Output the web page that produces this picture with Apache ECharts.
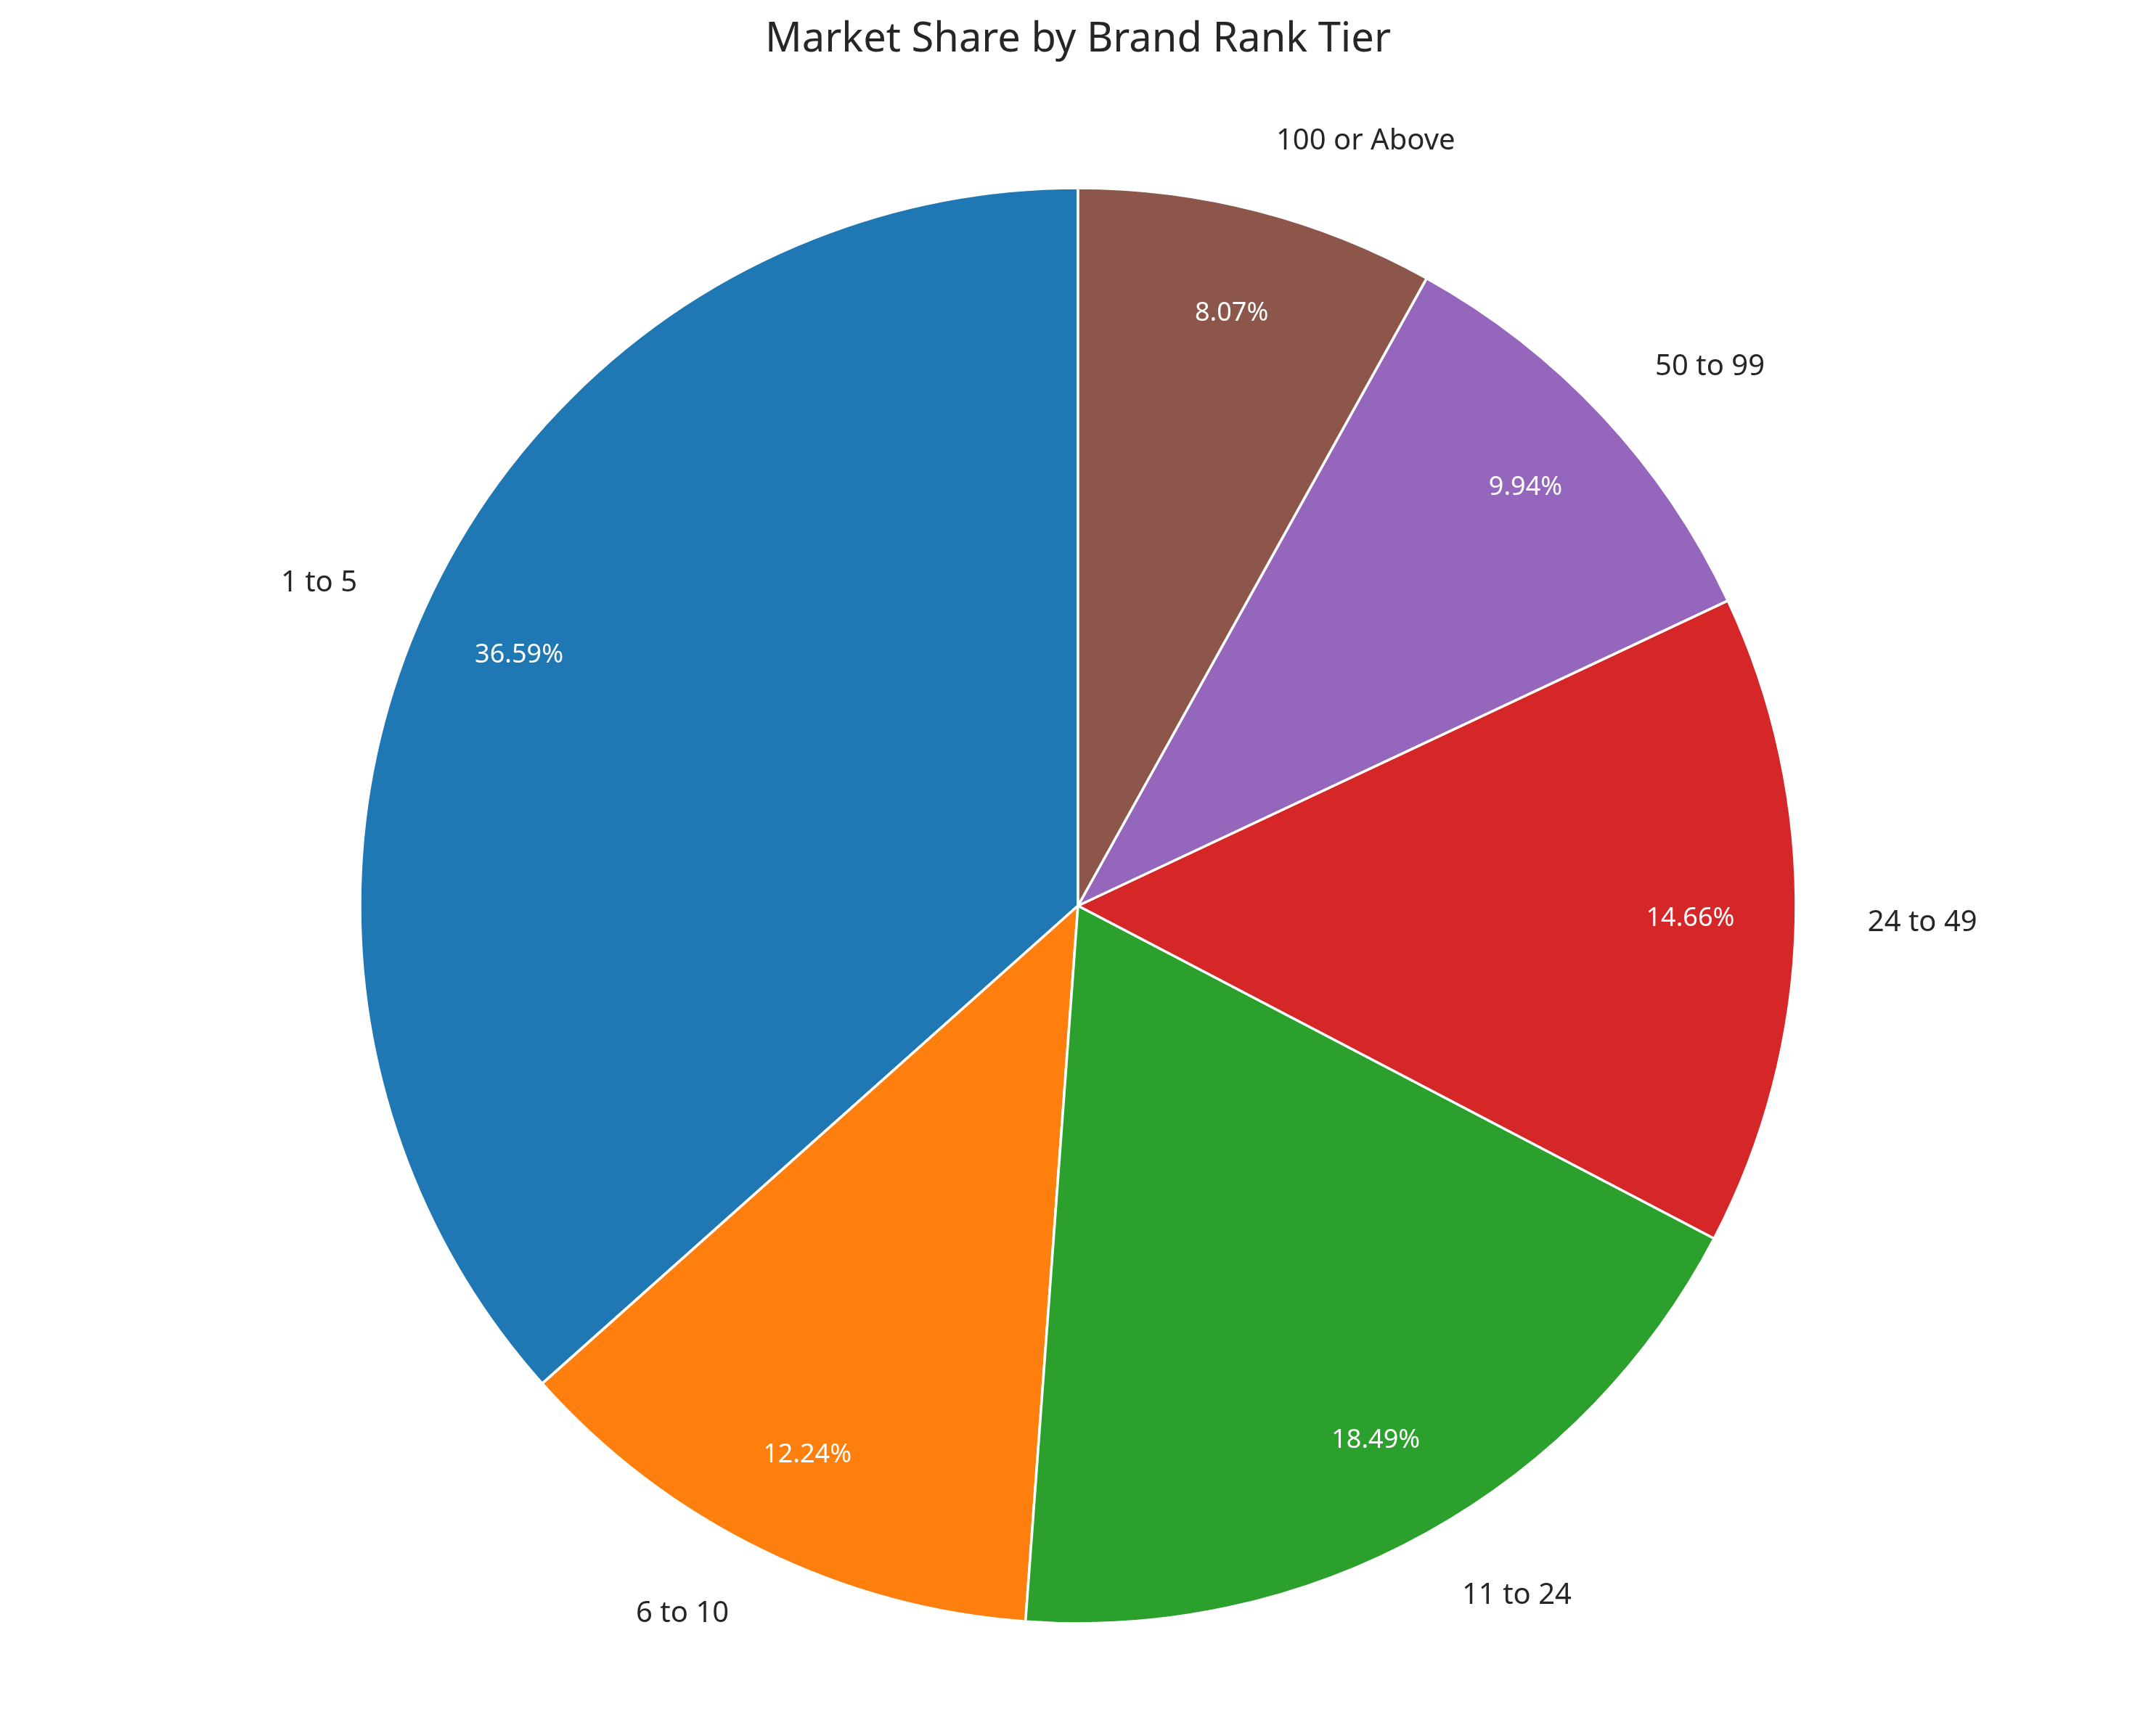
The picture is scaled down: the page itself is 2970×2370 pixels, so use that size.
<!DOCTYPE html>
<html>
<head>
<meta charset="utf-8">
<script src="https://cdn.jsdelivr.net/npm/echarts@6/dist/echarts.min.js"></script>
<style>
html,body{margin:0;padding:0;background:#fff;}
#chart{width:2970px;height:2370px;}
</style>
</head>
<body>
<div id="chart"></div>
<script>
const categories = ['1 to 5', '6 to 10', '11 to 24', '24 to 49', '50 to 99', '100 or Above'];
const shares = [36.59, 12.24, 18.49, 14.66, 9.94, 8.07];
const colors = ['#1f77b4', '#ff7f0e', '#2ca02c', '#d62728', '#9467bd', '#8c564b'];

const R = 989;
const cx = 1485, cy = 1248;
const font = 'Noto Sans';

const data = categories.map((name, i) => ({ name: name, value: shares[i], itemStyle: { color: colors[i] } }));
const pctData = categories.map((name, i) => ({ name: name, value: shares[i] }));

const chart = echarts.init(document.getElementById('chart'), null, { renderer: 'canvas' });
chart.setOption({
  backgroundColor: '#ffffff',
  animation: false,
  title: {
    text: 'Market Share by Brand Rank Tier',
    left: 'center',
    top: 22,
    textStyle: { fontFamily: font, fontSize: 56, fontWeight: 'normal', color: '#262626' }
  },
  series: [
    {
      type: 'pie',
      center: [cx, cy],
      radius: [0, R],
      startAngle: 90,
      clockwise: false,
      avoidLabelOverlap: false,
      silent: true,
      data: data,
      itemStyle: { borderColor: '#ffffff', borderWidth: 3.5 },
      label: {
        show: true,
        position: 'outside',
        formatter: '{b}',
        fontFamily: font,
        fontSize: 40,
        color: '#262626',
        distanceToLabelLine: 0
      },
      labelLine: { show: false, length: 99, length2: 0 }
    },
    {
      type: 'pie',
      center: [cx, cy],
      radius: [R * 0.7, R],
      startAngle: 90,
      clockwise: false,
      avoidLabelOverlap: false,
      silent: true,
      data: pctData,
      itemStyle: { color: 'rgba(0,0,0,0)', borderWidth: 0 },
      label: {
        show: true,
        position: 'inside',
        formatter: p => p.value.toFixed(2) + '%',
        fontFamily: font,
        fontSize: 36,
        color: '#ffffff'
      },
      labelLine: { show: false }
    }
  ]
});
</script>
</body>
</html>
